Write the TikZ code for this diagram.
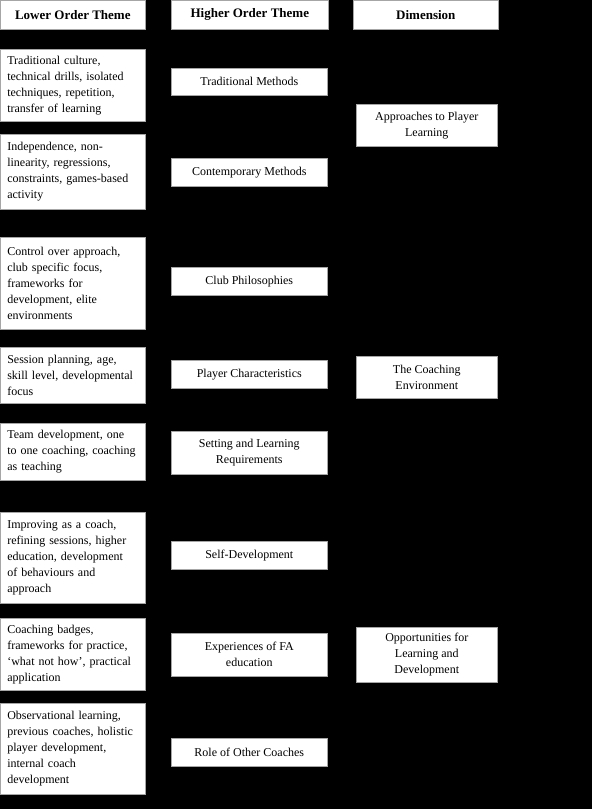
\documentclass[tikz,border=0pt]{standalone}
\usepackage{fontspec}
\setmainfont{Liberation Serif}
\usetikzlibrary{positioning}

\begin{document}
\begin{tikzpicture}[x=1pt, y=-1pt,
  box/.style={draw=gray!70, fill=white, line width=0.6pt, anchor=north west,
    inner sep=0pt, font=\fontsize{12}{16}\selectfont},
  head/.style={box, minimum height=29pt, font=\fontsize{13}{16}\selectfont\bfseries},
  low/.style={box, text width=131pt, inner xsep=7pt, align=left},
  high/.style={box, minimum width=156pt, align=center},
  dim/.style={box, minimum width=141pt, align=center}]

  % Background
  \path[use as bounding box, fill=black] (0,0) rectangle (592,809);

  % Column headings
  \node[head, minimum width=145pt] (hl) at (0,0) {Lower Order Theme};
  \node[head, minimum width=157pt] (hh) at (171,0) {Higher Order Theme};
  \node[head, minimum width=145pt] (hd) at (353,0) {Dimension};

  % Lower order themes
  \node[low, minimum height=72pt] (l1) at (0,49) {Traditional culture,\\technical drills, isolated\\techniques, repetition,\\transfer of learning};
  \node[low, minimum height=75pt] (l2) at (0,134) {Independence, non-\\linearity, regressions,\\constraints, games-based\\activity};
  \node[low, minimum height=92pt] (l3) at (0,237) {Control over approach,\\club specific focus,\\frameworks for\\development, elite\\environments};
  \node[low, minimum height=56pt] (l4) at (0,347) {Session planning, age,\\skill level, developmental\\focus};
  \node[low, minimum height=57pt] (l5) at (0,423) {Team development, one\\to one coaching, coaching\\as teaching};
  \node[low, minimum height=91pt] (l6) at (0,512) {Improving as a coach,\\refining sessions, higher\\education, development\\of behaviours and\\approach};
  \node[low, minimum height=72pt] (l7) at (0,618) {Coaching badges,\\frameworks for practice,\\‘what not how’, practical\\application};
  \node[low, minimum height=91pt] (l8) at (0,703) {Observational learning,\\previous coaches, holistic\\player development,\\internal coach\\development};

  % Higher order themes
  \node[high, minimum height=27pt] (h1) at (171,68) {Traditional Methods};
  \node[high, minimum height=28pt] (h2) at (171,158) {Contemporary Methods};
  \node[high, minimum height=28pt] (h3) at (171,267) {Club Philosophies};
  \node[high, minimum height=28pt] (h4) at (171,360) {Player Characteristics};
  \node[high, minimum height=43pt] (h5) at (171,431) {Setting and Learning\\Requirements};
  \node[high, minimum height=28pt] (h6) at (171,541) {Self-Development};
  \node[high, minimum height=43pt] (h7) at (171,633) {Experiences of FA\\education};
  \node[high, minimum height=28pt] (h8) at (171,738) {Role of Other Coaches};

  % Dimensions
  \node[dim, minimum height=42pt] (d1) at (356,104) {Approaches to Player\\Learning};
  \node[dim, minimum height=42pt] (d2) at (356,356) {The Coaching\\Environment};
  \node[dim, minimum height=55pt] (d3) at (356,627) {Opportunities for\\Learning and\\Development};
\end{tikzpicture}
\end{document}
